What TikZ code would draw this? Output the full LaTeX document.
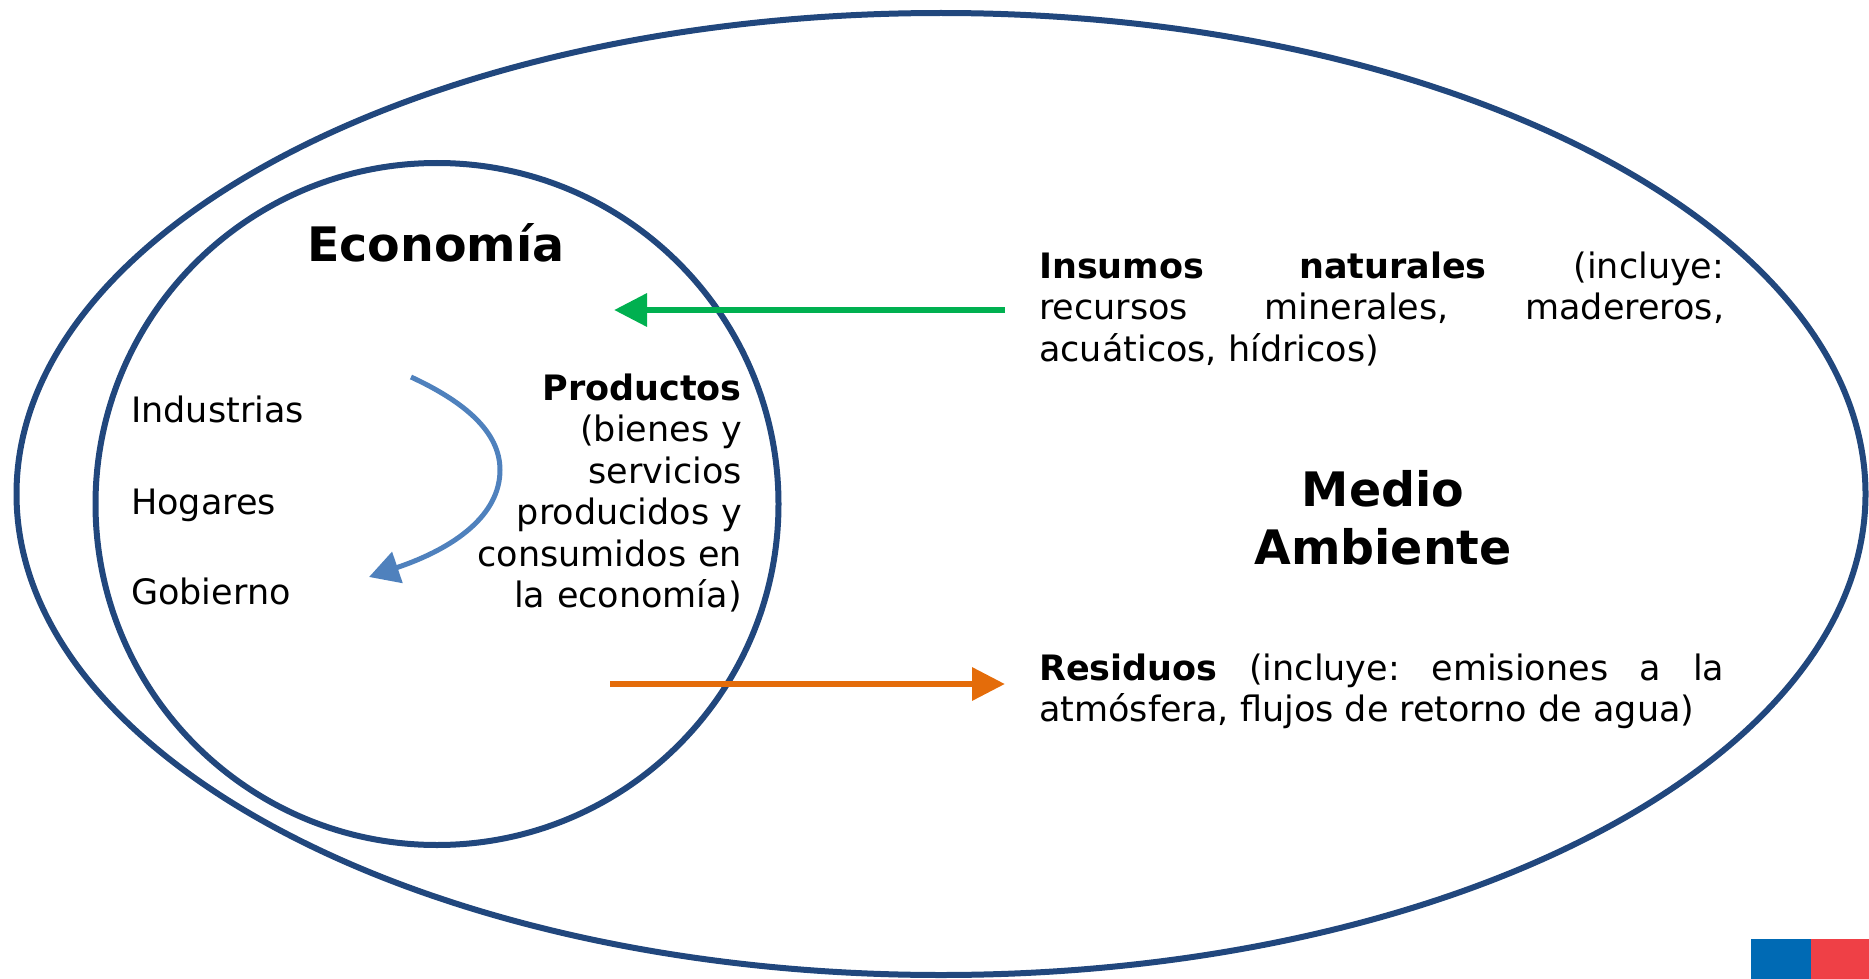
\documentclass[tikz,border=0pt]{standalone}
\usepackage{fontspec}
\setmainfont{DejaVu Sans}
\usetikzlibrary{arrows.meta}
\definecolor{navy}{RGB}{33,71,125}
\definecolor{ingreen}{RGB}{0,176,80}
\definecolor{outorange}{RGB}{228,108,10}
\definecolor{loopblue}{RGB}{79,129,189}
\definecolor{flagblue}{RGB}{0,106,180}
\definecolor{flagred}{RGB}{239,64,70}
\hyphenpenalty=10000
\frenchspacing
\begin{document}
\begin{tikzpicture}[x=1pt,y=-1pt,
  ring/.style={draw=navy,line width=6pt},
  body/.style={inner sep=0pt,font=\fontsize{35}{41.5}\selectfont},
  head/.style={inner sep=0pt,font=\fontsize{47.5}{58.4}\selectfont\bfseries},
  flow/.style={line width=6.5pt,-{Triangle[length=33pt,width=32pt]}},
  loop/.style={draw=loopblue,line width=5pt,-{Triangle[length=30pt,width=32pt]}}]
\useasboundingbox (0,0) rectangle (1869,979);
% ellipses
\draw[ring] (941,494) ellipse [x radius=924.5pt, y radius=481pt];
\draw[ring] (437,504) ellipse [x radius=341.5pt, y radius=341pt];
% titles
\node[head,anchor=base] (econ) at (436,261) {Economía};
\node[head,anchor=base,text width=400pt,align=center] (medio) at (1383,506) {Medio\\Ambiente};
% actors
\node[body,anchor=base west] (ind) at (131,422) {Industrias};
\node[body,anchor=base west] (hog) at (131,514) {Hogares};
\node[body,anchor=base west] (gob) at (131,604) {Gobierno};
% products
\node[body,anchor=base east,text width=400pt,align=right] (prod) at (742,400)
  {\textbf{Productos}\\(bienes y\\servicios\\producidos y\\consumidos en\\la economía)};
% right texts
\node[body,anchor=base west,text width=685pt,align=justify] (ins) at (1039,278)
  {\textbf{Insumos naturales} (incluye:\linebreak recursos minerales, madereros,\linebreak acuáticos, hídricos)};
\node[body,anchor=base west,text width=685pt,align=justify] (res) at (1039,680)
  {\textbf{Residuos} (incluye: emisiones a la\linebreak atmósfera, flujos de retorno de agua)};
% arrows
\coordinate (gS) at (1005,310);
\coordinate (gE) at (614,310);
\draw[flow,draw=ingreen] (gS) -- (gE);
\coordinate (oS) at (610,684);
\coordinate (oE) at (1005,684);
\draw[flow,draw=outorange] (oS) -- (oE);
\coordinate (lS) at (411,377);
\coordinate (lM) at (500,470);
\coordinate (lE) at (369,577);
\draw[loop] (lS) .. controls (465,402) and (500,432) .. (lM)
  .. controls (500,515) and (455,548) .. (lE);
% flag
\fill[flagblue] (1751,939) rectangle (1811,979);
\fill[flagred] (1811,939) rectangle (1869,979);
\end{tikzpicture}
\end{document}
